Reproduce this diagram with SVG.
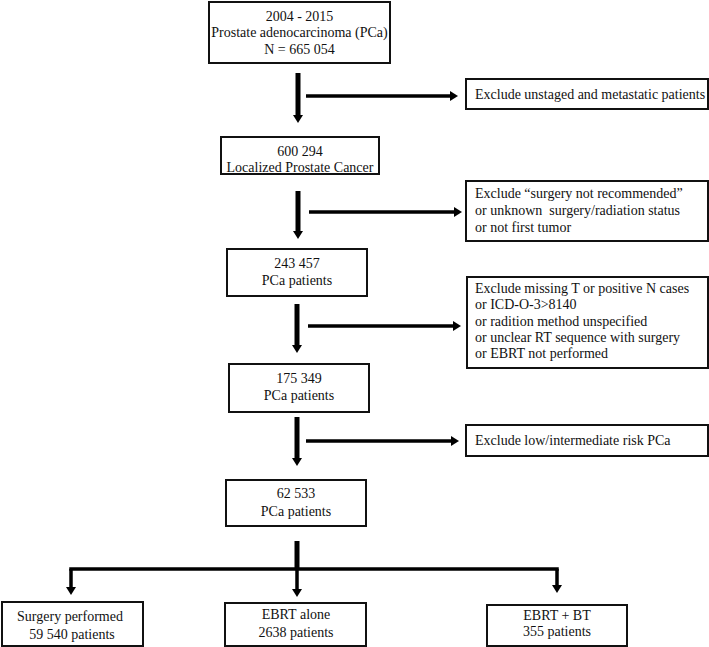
<svg xmlns="http://www.w3.org/2000/svg" width="709" height="647" viewBox="0 0 709 647">
<style>
  .box { fill: #ffffff; stroke: #111111; stroke-width: 2; }
  .t { font-family: "Liberation Serif", "Times New Roman", serif; font-size: 14px; fill: #111111; white-space: pre; }
  .c { text-anchor: middle; }
  .thick { stroke: #000000; stroke-width: 5; fill: none; }
  .thin { stroke: #000000; stroke-width: 3.5; fill: none; }
</style>
<defs>
  <marker id="ah" viewBox="0 0 8 10" refX="0" refY="5" markerWidth="8" markerHeight="10" markerUnits="userSpaceOnUse" orient="auto">
    <path d="M0,0 L8,5 L0,10 Z" fill="#000000"/>
  </marker>
</defs>

<g id="connectors">
  <line class="thick" x1="298" y1="73" x2="298" y2="115" marker-end="url(#ah)"/>
  <line class="thin" x1="306" y1="96" x2="450" y2="96" marker-end="url(#ah)"/>
  <line class="thick" x1="298" y1="191" x2="298" y2="231" marker-end="url(#ah)"/>
  <line class="thin" x1="309" y1="212" x2="454" y2="212" marker-end="url(#ah)"/>
  <line class="thick" x1="297" y1="304" x2="297" y2="345" marker-end="url(#ah)"/>
  <line class="thin" x1="308" y1="326" x2="453" y2="326" marker-end="url(#ah)"/>
  <line class="thick" x1="297" y1="417" x2="297" y2="458" marker-end="url(#ah)"/>
  <line class="thin" x1="306" y1="441" x2="451" y2="441" marker-end="url(#ah)"/>
  <line class="thick" x1="297" y1="541" x2="297" y2="569"/>
  <line class="thin" x1="71" y1="569" x2="557" y2="569" stroke-linecap="square"/>
  <line class="thin" x1="71" y1="569" x2="71" y2="587" marker-end="url(#ah)"/>
  <line class="thin" x1="297" y1="569" x2="297" y2="589" marker-end="url(#ah)"/>
  <line class="thin" x1="557" y1="569" x2="557" y2="585" marker-end="url(#ah)"/>
</g>

<g id="n1">
  <rect class="box" x="209" y="2" width="181" height="61"/>
  <text class="t c" x="299.5" y="21">2004 - 2015</text>
  <text class="t c" x="299.5" y="37">Prostate adenocarcinoma (PCa)</text>
  <text class="t c" x="299.5" y="54">N = 665 054</text>
</g>
<g id="n2">
  <rect class="box" x="221" y="137" width="158" height="37"/>
  <text class="t c" x="300" y="156">600 294</text>
  <text class="t c" x="300" y="172">Localized Prostate Cancer</text>
</g>
<g id="n3">
  <rect class="box" x="227" y="249" width="140" height="47"/>
  <text class="t c" x="297" y="268">243 457</text>
  <text class="t c" x="297" y="285">PCa patients</text>
</g>
<g id="n4">
  <rect class="box" x="229" y="364" width="140" height="48"/>
  <text class="t c" x="299" y="383">175 349</text>
  <text class="t c" x="299" y="400">PCa patients</text>
</g>
<g id="n5">
  <rect class="box" x="226" y="480" width="140" height="46"/>
  <text class="t c" x="296" y="498">62 533</text>
  <text class="t c" x="296" y="516">PCa patients</text>
</g>

<g id="e1">
  <rect class="box" x="466" y="79" width="242" height="30"/>
  <text class="t" x="475" y="99">Exclude unstaged and metastatic patients</text>
</g>
<g id="e2">
  <rect class="box" x="466" y="181" width="242" height="60"/>
  <text class="t" x="475" y="198">Exclude “surgery not recommended”</text>
  <text class="t" x="475" y="215">or unknown  surgery/radiation status</text>
  <text class="t" x="475" y="232">or not first tumor</text>
</g>
<g id="e3">
  <rect class="box" x="467" y="277" width="241" height="91"/>
  <text class="t" x="475" y="293">Exclude missing T or positive N cases</text>
  <text class="t" x="475" y="309">or ICD-O-3&gt;8140</text>
  <text class="t" x="475" y="326">or radition method unspecified</text>
  <text class="t" x="475" y="342">or unclear RT sequence with surgery</text>
  <text class="t" x="475" y="358">or EBRT not performed</text>
</g>
<g id="e4">
  <rect class="box" x="466" y="425" width="242" height="31"/>
  <text class="t" x="475" y="445">Exclude low/intermediate risk PCa</text>
</g>

<g id="s1">
  <rect class="box" x="2" y="602" width="141" height="44"/>
  <text class="t c" x="70" y="621">Surgery performed</text>
  <text class="t c" x="72" y="639">59 540 patients</text>
</g>
<g id="s2">
  <rect class="box" x="225" y="603" width="141" height="43"/>
  <text class="t c" x="296" y="619">EBRT alone</text>
  <text class="t c" x="296" y="637">2638 patients</text>
</g>
<g id="s3">
  <rect class="box" x="487" y="605" width="140" height="41"/>
  <text class="t c" x="557" y="620">EBRT + BT</text>
  <text class="t c" x="557" y="636">355 patients</text>
</g>
</svg>
